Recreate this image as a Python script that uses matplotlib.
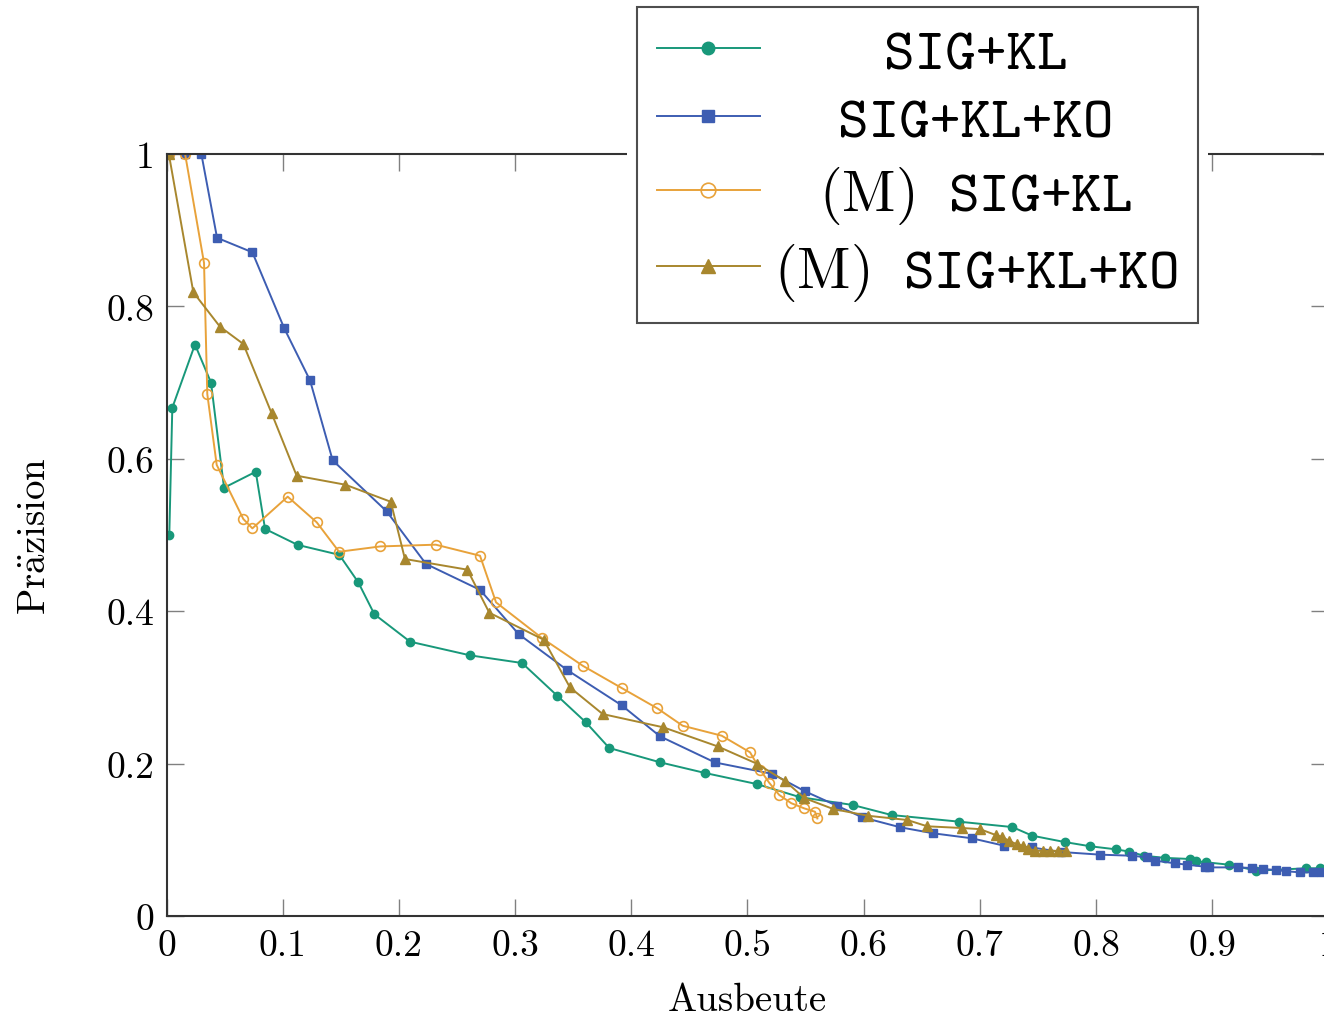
import matplotlib
matplotlib.use('Agg')
import matplotlib.pyplot as plt
from matplotlib.patches import Rectangle

plt.rcParams['font.family'] = 'serif'
plt.rcParams['font.serif'] = ['cmr10']
plt.rcParams['mathtext.fontset'] = 'cm'
plt.rcParams['axes.formatter.use_mathtext'] = True

# recall / precision pairs
sig_kl_x = [0.0024, 0.005, 0.0245, 0.0383, 0.0495, 0.0768, 0.0848, 0.1129, 0.1487, 0.165,
            0.1789, 0.2096, 0.2615, 0.306, 0.3363, 0.361, 0.381, 0.4247, 0.4634, 0.5079,
            0.545, 0.5905, 0.624, 0.682, 0.7280, 0.7450, 0.7732, 0.7950, 0.817, 0.8286,
            0.8412, 0.859, 0.881, 0.886, 0.8946, 0.9146, 0.938, 0.981, 0.9927]
sig_kl_y = [0.500, 0.667, 0.750, 0.700, 0.562, 0.583, 0.508, 0.487, 0.474, 0.438,
            0.396, 0.360, 0.342, 0.332, 0.289, 0.254, 0.2205, 0.2017, 0.1877, 0.1732,
            0.156, 0.1457, 0.1325, 0.1238, 0.1167, 0.1054, 0.0970, 0.0915, 0.0875, 0.0845,
            0.0791, 0.0763, 0.0748, 0.0718, 0.0705, 0.0673, 0.0595, 0.0626, 0.0626]

sig_kl_ko_x = [0.002, 0.016, 0.030, 0.0435, 0.0739, 0.1014, 0.1235, 0.143, 0.1895, 0.2233,
               0.2698, 0.303, 0.3446, 0.3917, 0.4247, 0.472, 0.5215, 0.5495, 0.5768, 0.5988,
               0.6315, 0.660, 0.693, 0.7207, 0.7445, 0.770, 0.8034, 0.8306, 0.844, 0.8507,
               0.8679, 0.878, 0.894, 0.8974, 0.922, 0.9339, 0.9434, 0.9548, 0.9634, 0.9755,
               0.987, 0.9933]
sig_kl_ko_y = [1.0, 1.0, 1.0, 0.890, 0.871, 0.771, 0.703, 0.598, 0.531, 0.462,
               0.428, 0.370, 0.323, 0.2765, 0.2358, 0.2015, 0.1865, 0.1636, 0.1448, 0.1295,
               0.1164, 0.1085, 0.102, 0.0923, 0.090, 0.084, 0.0805, 0.0791, 0.077, 0.0726,
               0.0692, 0.0673, 0.0647, 0.0638, 0.0638, 0.063, 0.0617, 0.0604, 0.0587, 0.0573,
               0.0573, 0.0573]

m_sig_kl_x = [0.002, 0.016, 0.0323, 0.0351, 0.0432, 0.0661, 0.0739, 0.1043, 0.1293, 0.1485,
              0.184, 0.2317, 0.2698, 0.2836, 0.3235, 0.3582, 0.3917, 0.4224, 0.4442, 0.4778,
              0.5022, 0.5108, 0.5186, 0.5272, 0.5377, 0.5489, 0.5581, 0.5601]
m_sig_kl_y = [1.0, 1.0, 0.857, 0.685, 0.592, 0.521, 0.5087, 0.5503, 0.5166, 0.478,
              0.485, 0.4873, 0.4728, 0.4116, 0.3643, 0.3284, 0.2992, 0.2725, 0.2497, 0.2366,
              0.2148, 0.1922, 0.175, 0.159, 0.148, 0.1412, 0.1368, 0.128]

m_sig_kl_ko_x = [0.002, 0.0231, 0.046, 0.0661, 0.0905, 0.112, 0.1539, 0.193, 0.2052, 0.2589,
                 0.2778, 0.3246, 0.3472, 0.3754, 0.4276, 0.4743, 0.5079, 0.5326, 0.5489, 0.5738,
                 0.604, 0.6375, 0.6547, 0.6843, 0.700, 0.7136, 0.7188, 0.7253, 0.732, 0.7375,
                 0.7418, 0.747, 0.754, 0.760, 0.767, 0.7745]
m_sig_kl_ko_y = [1.0, 0.8185, 0.7734, 0.7507, 0.6596, 0.5778, 0.566, 0.5436, 0.4685, 0.4545,
                 0.398, 0.3626, 0.300, 0.265, 0.2476, 0.2226, 0.2, 0.1768, 0.1548, 0.1404,
                 0.1315, 0.126, 0.1177, 0.1155, 0.114, 0.1063, 0.104, 0.0985, 0.094, 0.092,
                 0.0885, 0.0857, 0.0855, 0.0855, 0.0855, 0.0857]

# typewriter for the method names, (M) in roman math
labels = ['SIG+KL', 'SIG+KL+KO', r'$\mathrm{(M)}$ SIG+KL', r'$\mathrm{(M)}$ SIG+KL+KO']
x_ticks = [0, 0.1, 0.2, 0.3, 0.4, 0.5, 0.6, 0.7, 0.8, 0.9, 1]
x_tick_labels = ['0', '0.1', '0.2', '0.3', '0.4', '0.5', '0.6', '0.7', '0.8', '0.9', '1']
y_ticks = [0, 0.2, 0.4, 0.6, 0.8, 1]
y_tick_labels = ['0', '0.2', '0.4', '0.6', '0.8', '1']

green = '#18987a'
blue = '#3d5db2'
orange = '#e8a23a'
brown = '#a8872e'

fig = plt.figure(figsize=(13.24, 10.2), dpi=100)
# axes run a little past the right edge, like the cropped original
ax = fig.add_axes([166.5 / 1324, 1 - 917 / 1020, 1162 / 1324, 762 / 1020])

lw = 1.4
h1, = ax.plot(sig_kl_x, sig_kl_y, '-o', color=green, lw=lw, ms=6, mec=green)
h2, = ax.plot(sig_kl_ko_x, sig_kl_ko_y, '-s', color=blue, lw=lw, ms=6.2, mec=blue)
h3, = ax.plot(m_sig_kl_x, m_sig_kl_y, '-o', color=orange, lw=lw, ms=7, mfc='none',
              mec=orange, mew=1.2)
h4, = ax.plot(m_sig_kl_ko_x, m_sig_kl_ko_y, '-^', color=brown, lw=lw, ms=6.5, mec=brown)

ax.set_xlim(0, 1)
ax.set_ylim(0, 1)
ax.set_xticks(x_ticks)
ax.set_xticklabels(x_tick_labels)
ax.set_yticks(y_ticks)
ax.set_yticklabels(y_tick_labels)
ax.tick_params(direction='in', length=12, width=1, color='#808080', top=True, right=True,
               labelsize=27, pad=9)
for s in ax.spines.values():
    s.set_linewidth(1.5)
    s.set_color('#333333')
ax.set_xlabel('Ausbeute', fontsize=28, labelpad=15)
ax.set_ylabel(r'$\mathrm{Pr\ddot{a}zision}$', fontsize=28, labelpad=38)

leg = fig.legend([h1, h2, h3, h4], labels, loc='upper left',
                 bbox_to_anchor=(637 / 1324, 1 - 8 / 1020), bbox_transform=fig.transFigure,
                 prop={'family': 'cmtt10', 'size': 42}, frameon=True, fancybox=False,
                 edgecolor='#222222', borderpad=0.35, labelspacing=0.25, handlelength=1.75,
                 handletextpad=0.25, borderaxespad=0, markerscale=1.5)
leg.get_frame().set_linewidth(1.5)
leg.set_zorder(6)

# center each legend entry within the text column
fig.canvas.draw()
r = fig.canvas.get_renderer()
texts = leg.get_texts()
widths = [t.get_window_extent(r).width for t in texts]
wmax = max(widths)
for t, w in zip(texts, widths):
    t.set_position(((wmax - w) / 2, 0))
# a bit of extra room on the right of the widest entry
widest = texts[widths.index(wmax)]
widest.set_text(widest.get_text() + r'$\;\;$')

fig.canvas.draw()
# white gap where the legend sits on the top spine
bb = leg.get_window_extent(r)
fig.patches.append(Rectangle((bb.x0 - 10, bb.y0 - 10), bb.width + 20, bb.height + 20,
                             transform=None, facecolor='white', edgecolor='none', zorder=5))

fig.savefig('out.png', dpi=100)
